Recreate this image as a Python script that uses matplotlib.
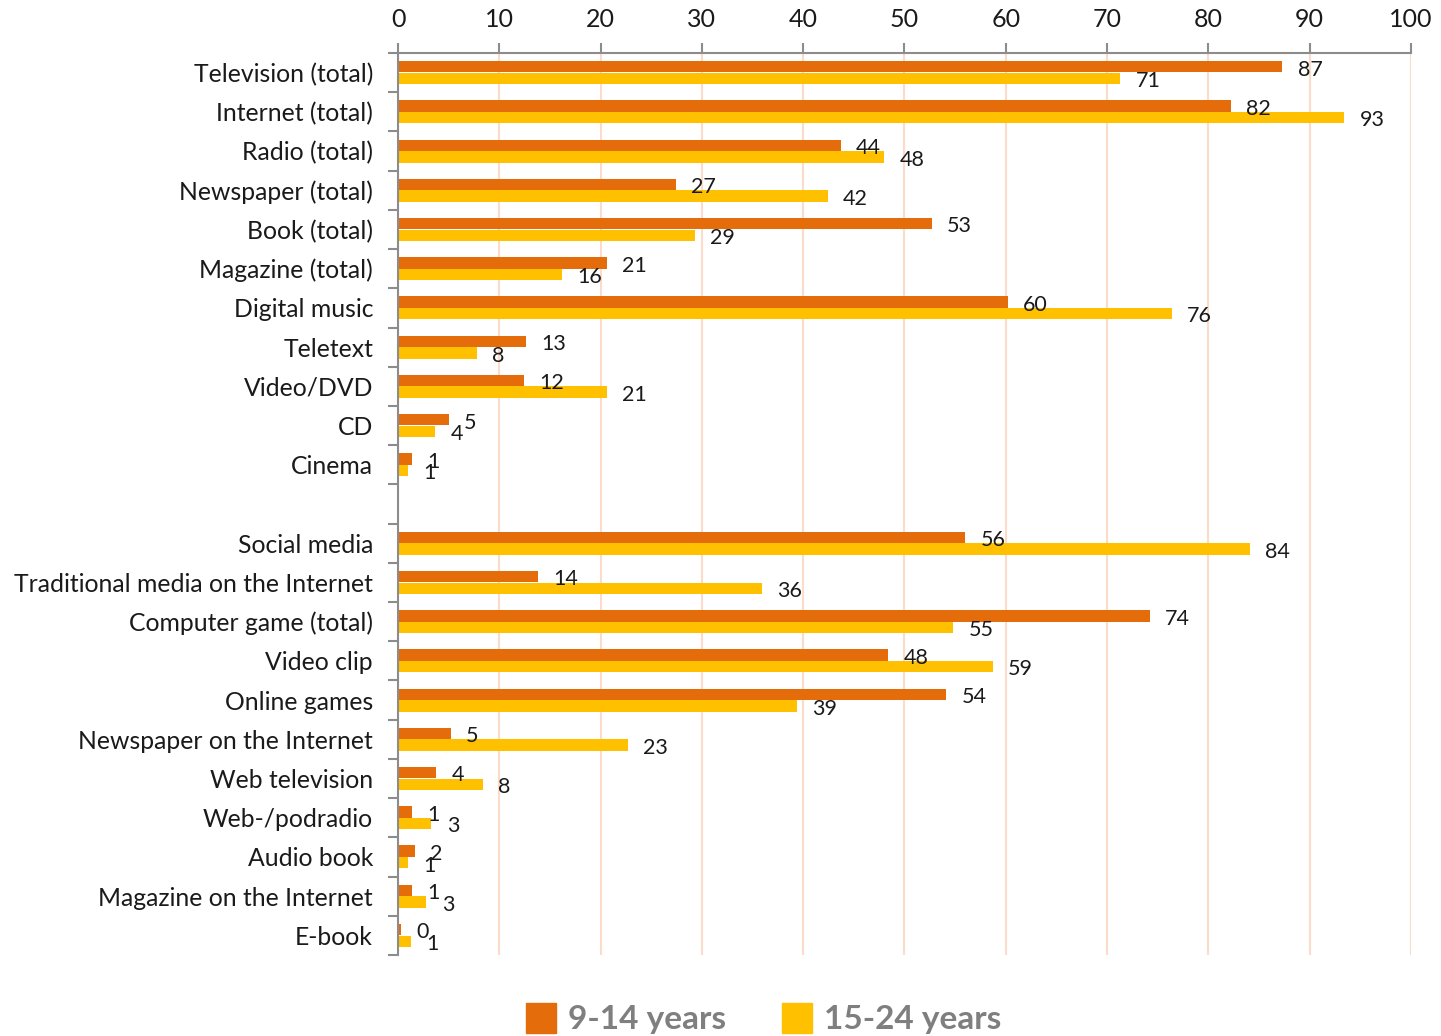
import numpy as np
import matplotlib
matplotlib.use("Agg")
import matplotlib.pyplot as plt
from matplotlib.patches import Patch

plt.rcParams['font.family'] = ['Lato', 'DejaVu Sans']

# traditional media (top block) and digital media (bottom block)
cats_top = ['Television (total)', 'Internet (total)', 'Radio (total)', 'Newspaper (total)',
            'Book (total)', 'Magazine (total)', 'Digital music', 'Teletext', 'Video/DVD',
            'CD', 'Cinema']
cats_bottom = ['Social media', 'Traditional media on the Internet', 'Computer game (total)',
               'Video clip', 'Online games', 'Newspaper on the Internet', 'Web television',
               'Web-/podradio', 'Audio book', 'Magazine on the Internet', 'E-book']

young_top = [87.3, 82.2, 43.7, 27.4, 52.7, 20.6, 60.2, 12.6, 12.4, 5.0, 1.4]
young_bottom = [56.0, 13.8, 74.2, 48.4, 54.1, 5.2, 3.8, 1.4, 1.7, 1.4, 0.3]
older_top = [71.3, 93.4, 48.0, 42.4, 29.3, 16.2, 76.4, 7.8, 20.6, 3.7, 1.0]
older_bottom = [84.1, 35.9, 54.8, 58.7, 39.4, 22.7, 8.4, 3.3, 1.0, 2.8, 1.3]

series_names = ['9-14 years', '15-24 years']
xticks = list(range(0, 101, 10))

ORANGE = '#E46C0A'
YELLOW = '#FFC000'
GRID = '#FBDCCB'
AXCOL = '#8C8C8C'
TXT = '#1a1a1a'

# one empty slot between the two blocks
cats = cats_top + [''] + cats_bottom
young = np.array(young_top + [np.nan] + young_bottom)
older = np.array(older_top + [np.nan] + older_bottom)
pos = np.arange(len(cats))

fig = plt.figure(figsize=(14.41, 10.36), dpi=100)
ax = fig.add_axes([398 / 1441, 1 - 955 / 1036, 1013 / 1441, 902 / 1036])

h = 0.29
off = 0.148
ax.barh(pos - off, np.nan_to_num(young), height=h, color=ORANGE, zorder=3)
ax.barh(pos + off, np.nan_to_num(older), height=h, color=YELLOW, zorder=3)

# value labels, a bit right of the bar end
for vals, dy in [(young, -off), (older, off)]:
    for y, v in zip(pos, vals):
        if np.isnan(v):
            continue
        ax.annotate(f'{v:.0f}', (v, y + dy), xytext=(11, -2), textcoords='offset points',
                    ha='left', va='center', fontsize=15.5, color=TXT)

ax.set_xlim(0, 100)
ax.set_ylim(len(cats) - 0.5, -0.5)
ax.xaxis.tick_top()
ax.set_xticks(xticks)
ax.tick_params(axis='x', direction='out', length=7, width=1.5, color=AXCOL,
               labelsize=18, pad=9, labelcolor=TXT)
ax.set_yticks(pos)
ax.set_yticklabels(cats, fontsize=17.8, color=TXT)
ax.tick_params(axis='y', which='major', length=0, pad=18)
ax.set_yticks(np.arange(-0.5, len(cats), 1), minor=True)
ax.tick_params(axis='y', which='minor', direction='out', length=7, width=1.5, color=AXCOL)

ax.grid(axis='x', color=GRID, linewidth=1.5, zorder=0)
ax.set_axisbelow(True)
for s in ['right', 'bottom']:
    ax.spines[s].set_visible(False)
for s in ['top', 'left']:
    ax.spines[s].set_color(AXCOL)
    ax.spines[s].set_linewidth(1.5)
    ax.spines[s].set_zorder(4)

handles = [Patch(color=ORANGE), Patch(color=YELLOW)]
leg = fig.legend(handles, series_names, loc='center', bbox_to_anchor=(0.53, 0.017),
                 ncol=2, frameon=False, handlelength=0.9, handleheight=1.0,
                 handletextpad=0.36, columnspacing=1.7,
                 prop={'family': 'Lato', 'weight': 'bold', 'size': 24})
for t in leg.get_texts():
    t.set_color('#7F7F7F')

fig.savefig('out.png', dpi=100)
